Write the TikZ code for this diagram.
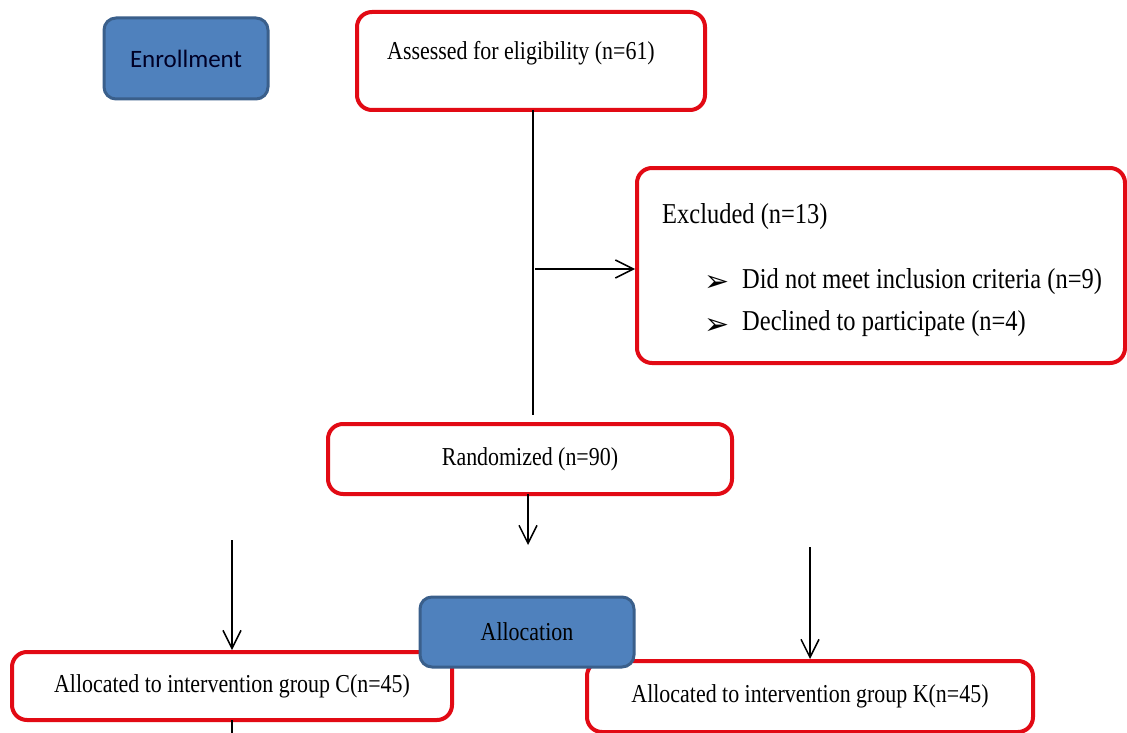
\documentclass[tikz,border=0pt]{standalone}
\usepackage{fontspec}
\setmainfont{Liberation Serif}
\newfontfamily\condserif[FakeStretch=0.85]{Liberation Serif}
\newfontfamily\calib{Carlito}
\newfontfamily\symb{DejaVu Sans}
\usetikzlibrary{arrows.meta}
\definecolor{boxred}{RGB}{226,10,20}
\definecolor{boxblue}{RGB}{79,129,189}
\definecolor{blueedge}{RGB}{58,95,139}
\tikzset{
  redbox/.style={draw=boxred, line width=4pt, rounded corners=15pt, fill=white, inner sep=0pt},
  bluebox/.style={draw=blueedge, line width=3pt, rounded corners=12pt, fill=boxblue, inner sep=0pt},
  txt/.style={font=\condserif\fontsize{25.8}{30}\selectfont, inner sep=0pt},
  bigtxt/.style={font=\condserif\fontsize{28.8}{33}\selectfont, inner sep=0pt},
  bul/.style={font=\symb\fontsize{30}{32}\selectfont, inner sep=0pt},
  conn/.style={line width=1.5pt},
  arr/.style={line width=1.5pt, -{Straight Barb[length=18pt,width=18pt,line width=1.5pt]}}
}
\begin{document}
\begin{tikzpicture}[x=1pt,y=-1pt]
\useasboundingbox (0,0) rectangle (1127,733);
\fill[white] (0,0) rectangle (1127,733);
% boxes
\node[bluebox, minimum width=164pt, minimum height=81pt, font=\calib\fontsize{25}{28}\selectfont, text=black!85!blue] (enrol) at (186,58.5) {Enrollment};
\node[redbox, minimum width=348pt, minimum height=98pt] (assess) at (531,61) {};
\node[txt, anchor=west] (assesst) at (387,53) {Assessed for eligibility (n=61)};
\node[redbox, minimum width=488pt, minimum height=195pt] (excl) at (881,265.5) {};
\node[bigtxt, anchor=west] (exclt) at (662,217) {Excluded (n=13)};
\node[bul] (b1) at (717,284) {➢};
\node[bigtxt, anchor=west] (e1) at (742,282) {Did not meet inclusion criteria (n=9)};
\node[bul] (b2) at (717,326) {➢};
\node[bigtxt, anchor=west] (e2) at (742,324) {Declined to participate (n=4)};
\node[redbox, minimum width=404pt, minimum height=70pt, txt] (rand) at (530,459) {Randomized (n=90)};
\node[redbox, minimum width=440pt, minimum height=68pt, txt] (allocC) at (232,686) {Allocated to intervention group C(n=45)};
\node[redbox, minimum width=446pt, minimum height=71pt, txt] (allocK) at (810,696.5) {Allocated to intervention group K(n=45)};
\node[bluebox, minimum width=214pt, minimum height=70pt, txt] (alloc) at (527,632) {Allocation};
% connectors
\coordinate (a1) at (533,110);
\coordinate (a2) at (533,415);
\coordinate (j) at (535,269);
\coordinate (r1) at (528,494);
\coordinate (r2) at (528,545);
\coordinate (l1) at (232,540);
\coordinate (k1) at (810,547);
\coordinate (c1) at (232,720);
\coordinate (c2) at (232,733);
\draw[conn] (a1) -- (a2);
\draw[arr] (j) -- (excl.west |- j);
\draw[arr] (r1) -- (r2);
\draw[arr] (l1) -- (allocC.north -| l1);
\draw[arr] (k1) -- (allocK.north -| k1);
\draw[conn] (c1) -- (c2);
\end{tikzpicture}
\end{document}
